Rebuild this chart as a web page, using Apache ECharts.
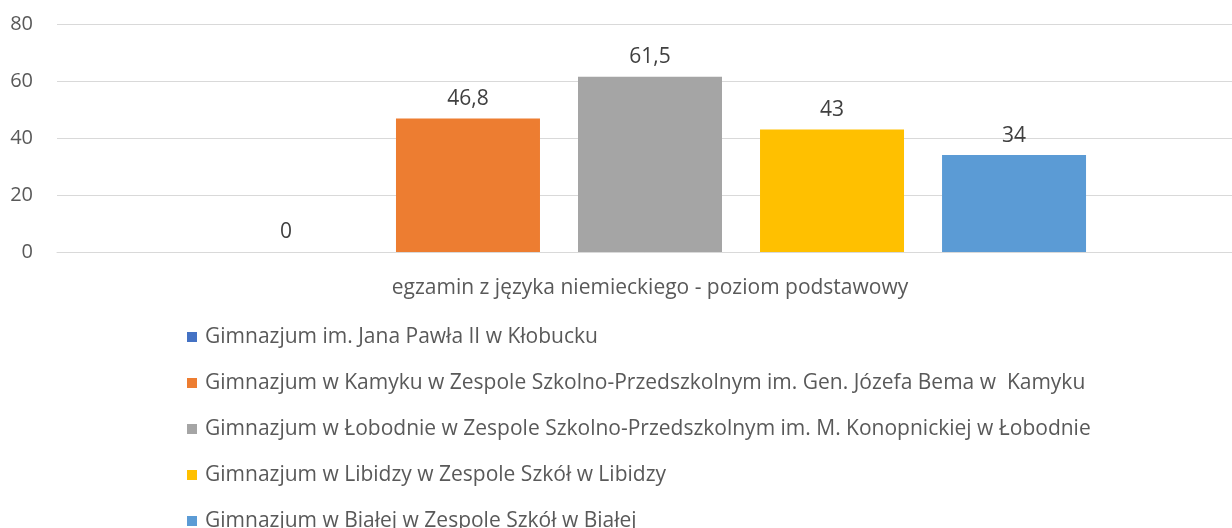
<!DOCTYPE html>
<html>
<head>
<meta charset="utf-8">
<script src="https://cdn.jsdelivr.net/npm/echarts@6/dist/echarts.min.js"></script>
<style>
  html, body { margin: 0; padding: 0; background: #fff; }
  #chart { width: 1232px; height: 528px; }
</style>
</head>
<body>
<div id="chart"></div>
<script>
// dane z wykresu
var categories = ['egzamin z języka niemieckiego - poziom podstawowy'];
var schools = [
    'Gimnazjum im. Jana Pawła II w Kłobucku',
    'Gimnazjum w Kamyku w Zespole Szkolno-Przedszkolnym im. Gen. Józefa Bema w  Kamyku',
    'Gimnazjum w Łobodnie w Zespole Szkolno-Przedszkolnym im. M. Konopnickiej w Łobodnie',
    'Gimnazjum w Libidzy w Zespole Szkół w Libidzy',
    'Gimnazjum w Białej w Zespole Szkół w Białej'
];
var values = [0, 46.8, 61.5, 43, 34];
var colors = ['#4472C4', '#ED7D31', '#A5A5A5', '#FFC000', '#5B9BD5'];
var yTicks = [0, 20, 40, 60, 80];

var font = '"Open Sans", sans-serif';

var chart = echarts.init(document.getElementById('chart'));

var series = schools.map(function(name, i) {
    return {
        name: name,
        type: 'bar',
        data: [values[i]],
        barWidth: 144,
        barGap: '26.4%',
        itemStyle: { color: colors[i] },
        label: {
            show: true,
            position: 'top',
            distance: 9,
            color: '#404040',
            fontFamily: font,
            fontSize: 21,
            formatter: function(p) {
                return String(p.value).replace('.', ',');
            }
        }
    };
});

var option = {
    animation: false,
    textStyle: { fontFamily: font },
    grid: {
        left: 57,
        width: 1186,
        top: 24,
        height: 228,
        outerBoundsMode: 'none'
    },
    legend: {
        orient: 'vertical',
        left: 187,
        top: 325,
        height: 240,
        padding: 0,
        itemWidth: 10,
        itemHeight: 10,
        itemGap: 22,
        icon: 'rect',
        data: schools,
        textStyle: {
            color: '#595959',
            fontFamily: font,
            fontSize: 21,
            lineHeight: 24,
            padding: [0, 0, 0, 3]
        }
    },
    xAxis: {
        type: 'category',
        data: categories,
        axisLine: { lineStyle: { color: '#d9d9d9', width: 1 } },
        axisTick: { show: false },
        axisLabel: {
            color: '#595959',
            fontFamily: font,
            fontSize: 21,
            margin: 26
        }
    },
    yAxis: {
        type: 'value',
        min: yTicks[0],
        max: yTicks[yTicks.length - 1],
        interval: 20,
        axisLine: { show: false },
        axisTick: { show: false },
        splitLine: { lineStyle: { color: '#d9d9d9', width: 1 } },
        axisLabel: {
            color: '#595959',
            fontFamily: font,
            fontSize: 20,
            margin: 24
        }
    },
    series: series
};

chart.setOption(option);
</script>
</body>
</html>
